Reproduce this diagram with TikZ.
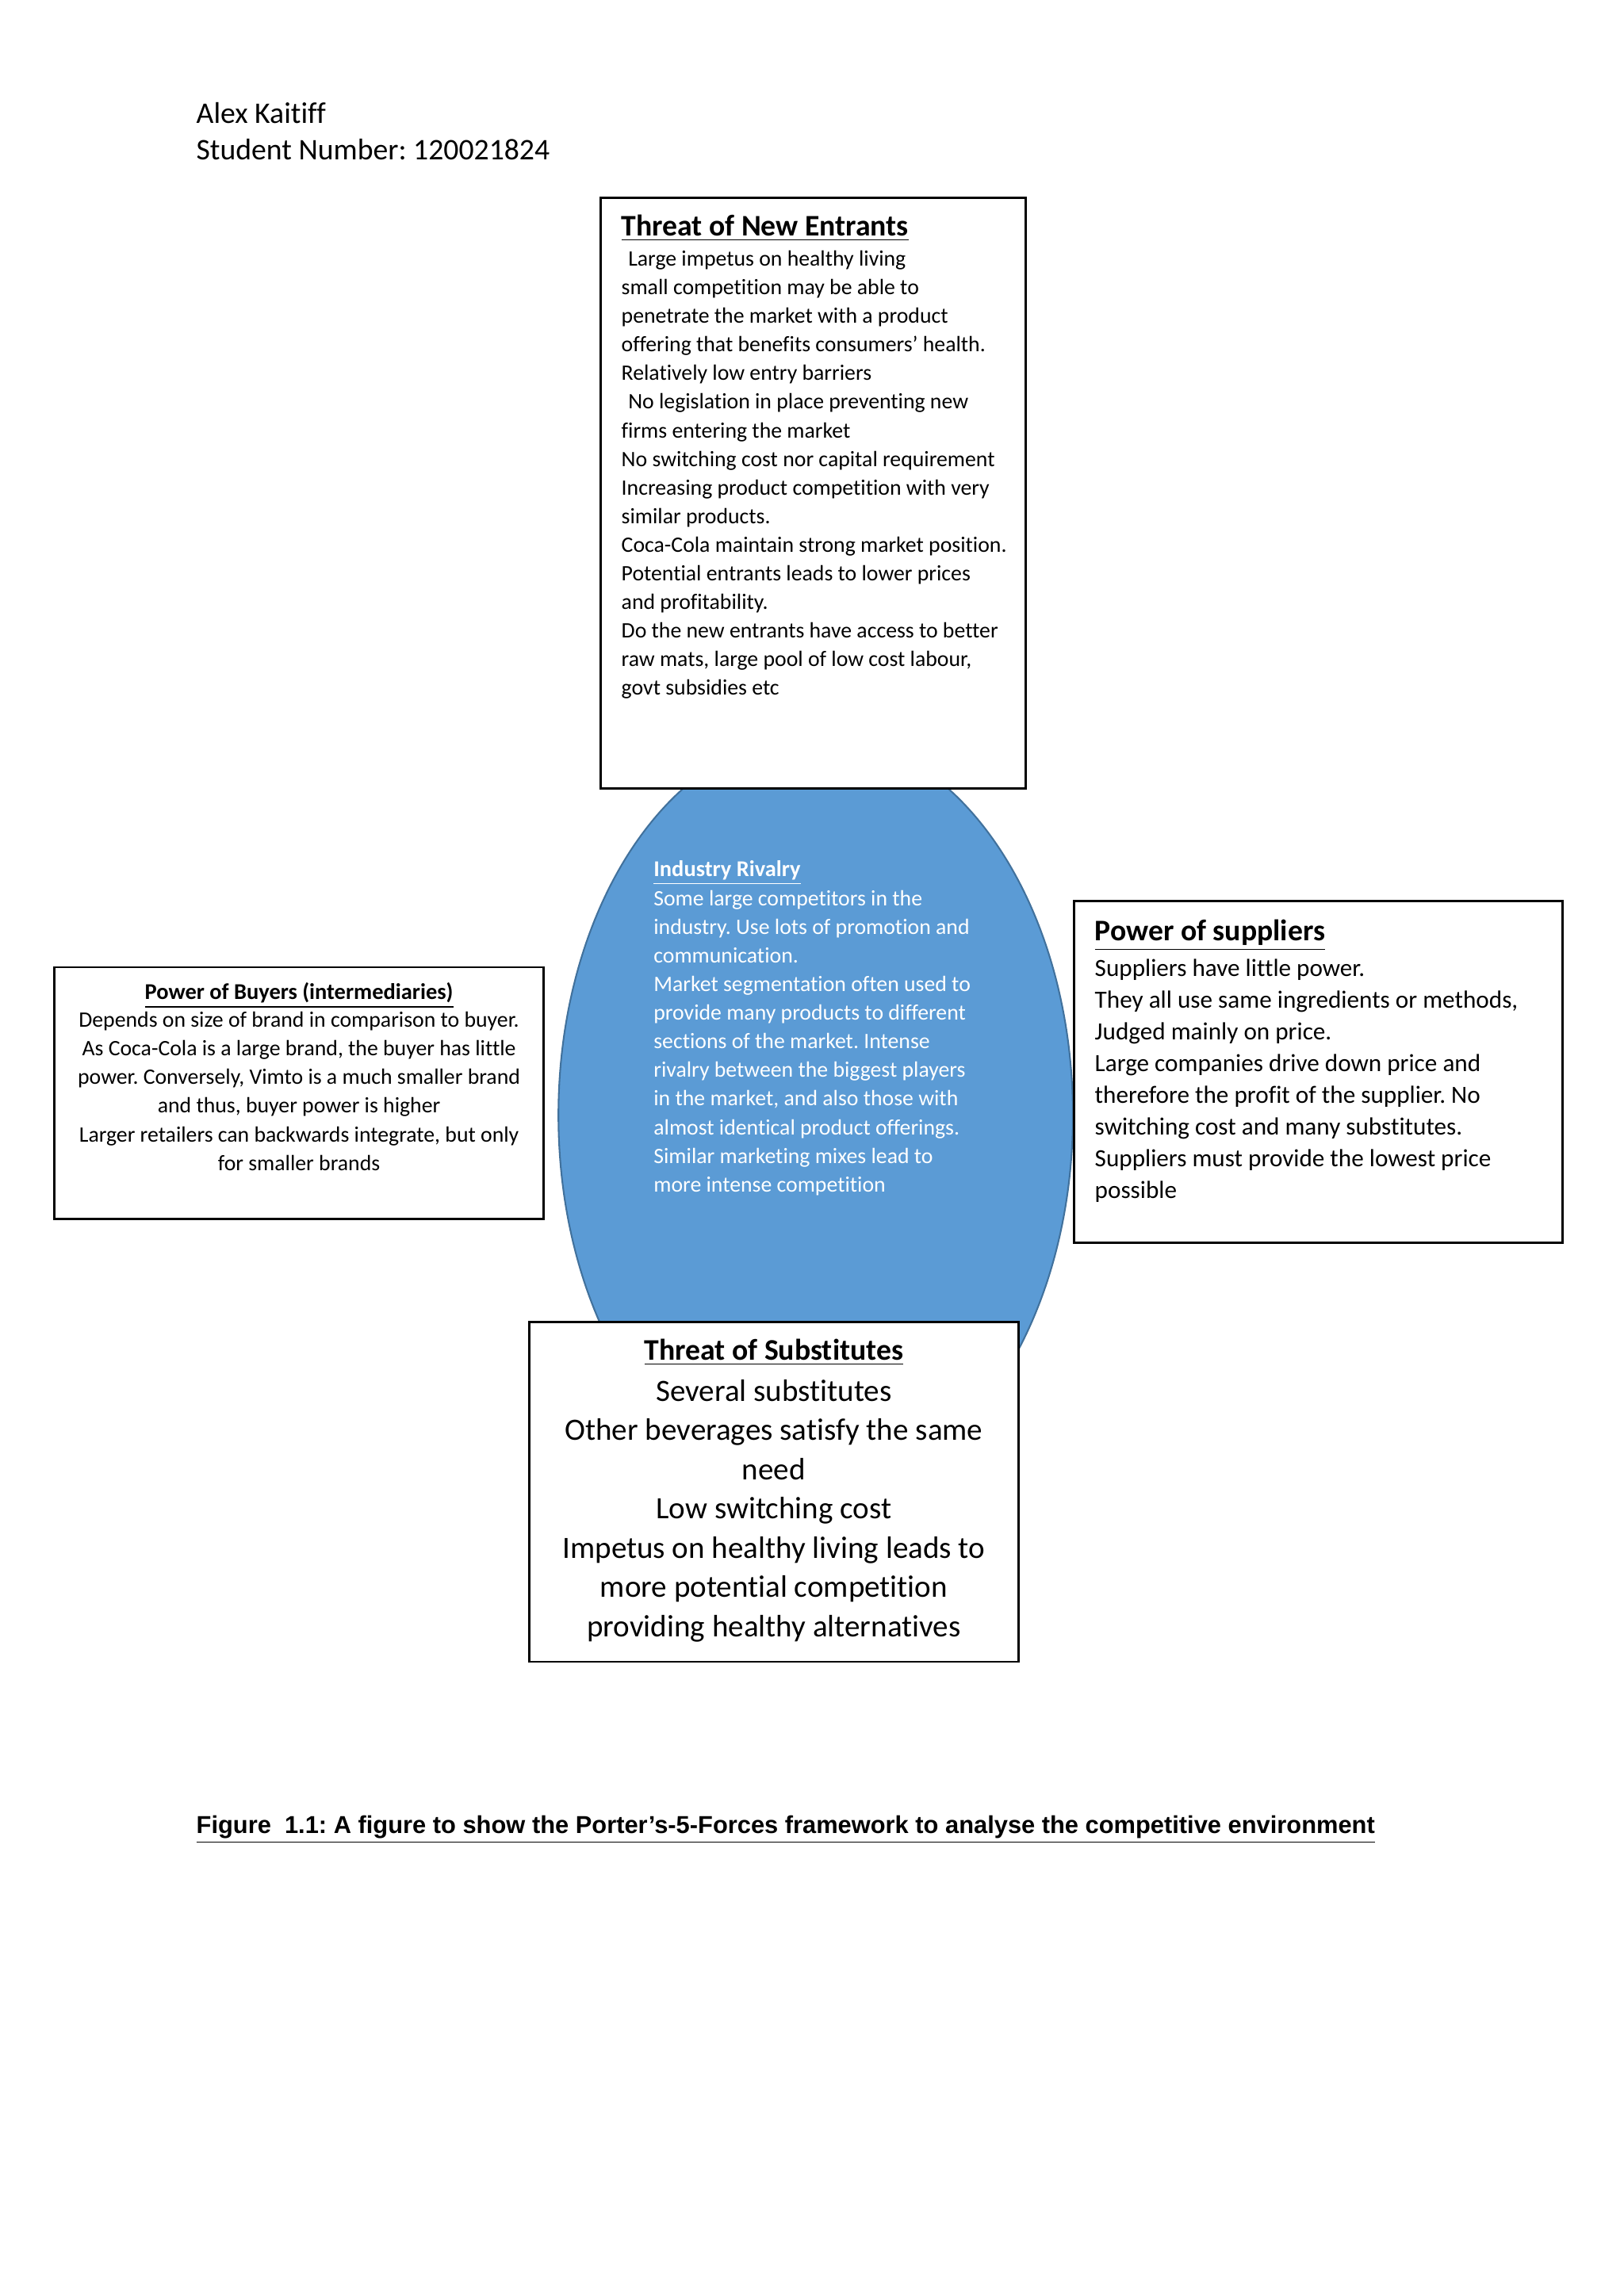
\documentclass[tikz,border=0pt]{standalone}
\usepackage{fontspec}
\setmainfont[Ligatures=NoCommon]{Carlito}
\newfontfamily\capfont{Liberation Sans}
\definecolor{rivfill}{HTML}{5B9BD5}
\definecolor{rivline}{HTML}{41719C}
\newcommand{\linesL}[1]{\begin{tabular}[t]{@{}l@{}}#1\end{tabular}}
\newcommand{\linesC}[1]{\begin{tabular}[t]{@{}c@{}}#1\end{tabular}}
\frenchspacing
\begin{document}
\frenchspacing
\begin{tikzpicture}[x=0.18953mm,y=-0.18953mm,
  box/.style={draw=black,line width=0.8pt,fill=white},
  txt/.style={inner sep=0pt,outer sep=0pt,anchor=base west},
  ctxt/.style={inner sep=0pt,outer sep=0pt,anchor=base},
  smallbody/.style={font=\fontsize{8.1}{10.53}\selectfont},
  smalltitle/.style={font=\fontsize{8.3}{10.53}\selectfont\bfseries},
  bigtitle/.style={font=\fontsize{11}{13}\selectfont\bfseries},
  supbody/.style={font=\fontsize{9.1}{11.7}\selectfont},
  subbody/.style={font=\fontsize{11.4}{14.45}\selectfont}]
\useasboundingbox[fill=white] (0,0) rectangle (1108,1566.8);

% header
\node[txt,font=\fontsize{11}{13.4}\selectfont] (hdr) at (134,84) {\linesL{Alex Kaitiff\\Student Number: 120021824}};

% industry rivalry ellipse
\draw[draw=rivline,fill=rivfill,line width=0.6pt] (556.5,761) ellipse [x radius=175.5, y radius=260];
\node[txt,smalltitle,text=white] (rivt) at (446,598) {\underline{Industry Rivalry}};
\node[txt,smallbody,text=white] (rivb) at (446,618) {\linesL{Some large competitors in the\\
industry. Use lots of promotion and\\
communication.\\
Market segmentation often used to\\
provide many products to different\\
sections of the market. Intense\\
rivalry between the biggest players\\
in the market, and also those with\\
almost identical product offerings.\\
Similar marketing mixes lead to\\
more intense competition}};

% threat of new entrants
\draw[box] (410,135) rectangle (700,538);
\node[txt,bigtitle] (tnet) at (424,161) {\underline{Threat of New Entrants}};
\node[txt,smallbody] (tneb) at (424,181.5) {\linesL{\hspace*{2.5pt}Large impetus on healthy living\\
small competition may be able to\\
penetrate the market with a product\\
offering that benefits consumers’ health.\\
Relatively low entry barriers\\
\hspace*{2.5pt}No legislation in place preventing new\\
firms entering the market\\
No switching cost nor capital requirement\\
Increasing product competition with very\\
similar products.\\
Coca-Cola maintain strong market position.\\
Potential entrants leads to lower prices\\
and profitability.\\
Do the new entrants have access to better\\
raw mats, large pool of low cost labour,\\
govt subsidies etc}};

% power of buyers
\draw[box] (37,660) rectangle (371,832);
\node[ctxt,smalltitle] (pobt) at (204,682) {\underline{Power of Buyers (intermediaries)}};
\node[ctxt,smallbody] (pobb) at (204,701) {\linesC{Depends on size of brand in comparison to buyer.\\
As Coca-Cola is a large brand, the buyer has little\\
power. Conversely, Vimto is a much smaller brand\\
and thus, buyer power is higher\\
Larger retailers can backwards integrate, but only\\
for smaller brands}};

% power of suppliers
\draw[box] (733,615) rectangle (1066,848);
\node[txt,bigtitle] (post) at (747,642) {\underline{Power of suppliers}};
\node[txt,supbody] (posb) at (747,666) {\linesL{Suppliers have little power.\\
They all use same ingredients or methods,\\
Judged mainly on price.\\
Large companies drive down price and\\
therefore the profit of the supplier. No\\
switching cost and many substitutes.\\
Suppliers must provide the lowest price\\
possible}};

% threat of substitutes
\draw[box] (361,902) rectangle (695,1134);
\node[ctxt,bigtitle] (tost) at (528,928) {\underline{Threat of Substitutes}};
\node[ctxt,subbody] (tosb) at (528,956) {\linesC{Several substitutes\\
Other beverages satisfy the same\\
need\\
Low switching cost\\
Impetus on healthy living leads to\\
more potential competition\\
providing healthy alternatives}};

% caption
\node[txt,font=\capfont\bfseries\fontsize{9}{11}\selectfont] (cap) at (134,1251) {\underline{Figure\ \ 1.1: A figure to show the Porter’s-5-Forces framework to analyse the competitive environment}};
\end{tikzpicture}
\end{document}
